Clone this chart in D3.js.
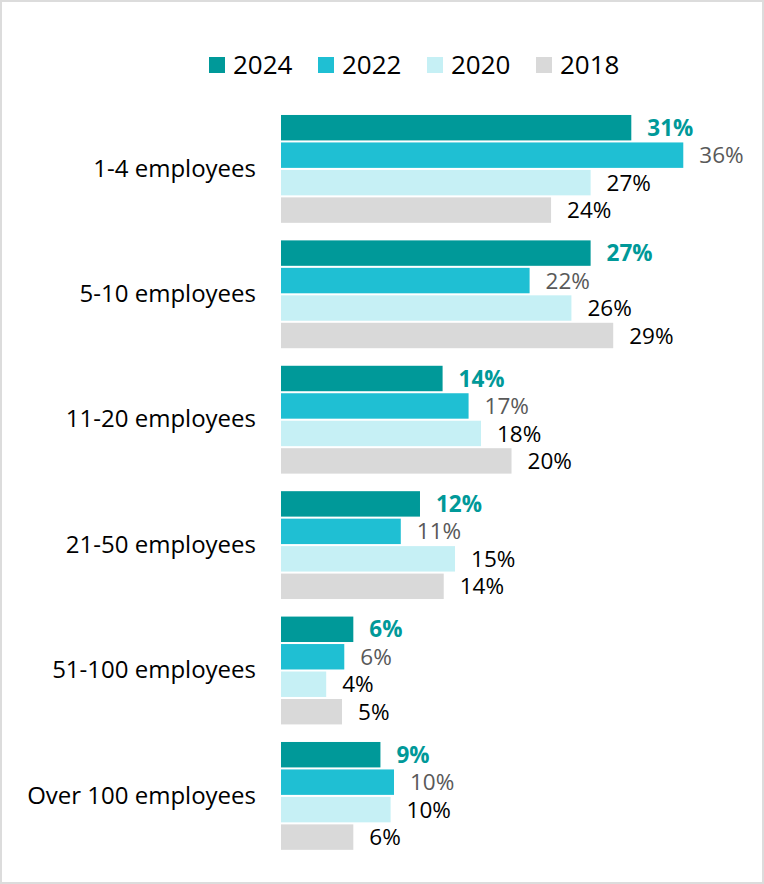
<!DOCTYPE html>
<html>
<head>
<meta charset="utf-8">
<script src="https://cdn.jsdelivr.net/npm/d3@7"></script>
<style>
  body { margin: 0; background: #fff; }
  svg { display: block; font-family: "Open Sans", "Noto Sans", sans-serif; }
</style>
</head>
<body>
<svg id="chart" width="764" height="884"></svg>
<script>
// chart data (bar lengths, labels are rounded)
var categories = ["1-4 employees", "5-10 employees", "11-20 employees",
                  "21-50 employees", "51-100 employees", "Over 100 employees"];
var years = ["2024", "2022", "2020", "2018"];
var v2024 = [31.0, 27.4, 14.3, 12.3, 6.4, 8.8];
var v2022 = [35.6, 22.0, 16.6, 10.6, 5.6, 10.0];
var v2020 = [27.4, 25.7, 17.7, 15.4, 4.0, 9.7];
var v2018 = [23.9, 29.4, 20.4, 14.4, 5.4, 6.4];

var series = [v2024, v2022, v2020, v2018];
var colors = ["#009999", "#1fbfd3", "#c6f0f5", "#d9d9d9"];
var labelColors = ["#009999", "#595959", "#000", "#000"];

var svg = d3.select("#chart"),
    width = +svg.attr("width"),
    height = +svg.attr("height");

// frame
svg.append("rect")
    .attr("x", 1).attr("y", 1)
    .attr("width", width - 2).attr("height", height - 2)
    .attr("fill", "#fff")
    .attr("stroke", "#dcdcdc")
    .attr("stroke-width", 2);

var x = d3.scaleLinear().domain([0, 40]).range([281, 281 + 452]);

var y0 = d3.scaleBand()
    .domain(categories)
    .range([106.2, 858.6])
    .paddingInner(0.14)
    .paddingOuter(0.07);

var y1 = d3.scaleBand()
    .domain(years)
    .range([0, y0.bandwidth()])
    .paddingInner(0.074);

// flatten into rows for drawing
var rows = [];
categories.forEach(function (c, i) {
    years.forEach(function (yr, j) {
        rows.push({cat: c, year: yr, idx: j, value: series[j][i]});
    });
});

var g = svg.append("g");

g.selectAll("rect.bar")
    .data(rows)
    .enter().append("rect")
    .attr("class", "bar")
    .attr("x", x(0))
    .attr("y", function (d) { return y0(d.cat) + y1(d.year); })
    .attr("width", function (d) { return x(d.value) - x(0); })
    .attr("height", y1.bandwidth())
    .attr("fill", function (d) { return colors[d.idx]; });

g.selectAll("text.val")
    .data(rows)
    .enter().append("text")
    .attr("class", "val")
    .attr("x", function (d) { return x(d.value) + 16; })
    .attr("y", function (d) { return y0(d.cat) + y1(d.year) + y1.bandwidth() / 2; })
    .attr("dy", "0.36em")
    .attr("font-size", 22.5)
    .attr("font-weight", function (d) { return d.idx === 0 ? 700 : 400; })
    .attr("fill", function (d) { return labelColors[d.idx]; })
    .text(function (d) { return Math.round(d.value) + "%"; });

// category axis (no line, no ticks)
var yAxis = svg.append("g")
    .attr("transform", "translate(" + (x(0) - 25) + ",0)")
    .call(d3.axisLeft(y0).tickSize(0).tickPadding(0));
yAxis.select(".domain").remove();
yAxis.selectAll("text")
    .attr("font-family", "Open Sans, Noto Sans, sans-serif")
    .attr("font-size", 24)
    .attr("fill", "#000");

// legend
var legend = svg.append("g")
    .selectAll("g")
    .data(years)
    .enter().append("g")
    .attr("transform", function (d, i) { return "translate(" + (209 + i * 109) + ",57)"; });

legend.append("rect")
    .attr("width", 16).attr("height", 16)
    .attr("fill", function (d, i) { return colors[i]; });

legend.append("text")
    .attr("x", 24).attr("y", 8)
    .attr("dy", "0.36em")
    .attr("font-size", 26)
    .attr("fill", "#000")
    .text(function (d) { return d; });
</script>
</body>
</html>
